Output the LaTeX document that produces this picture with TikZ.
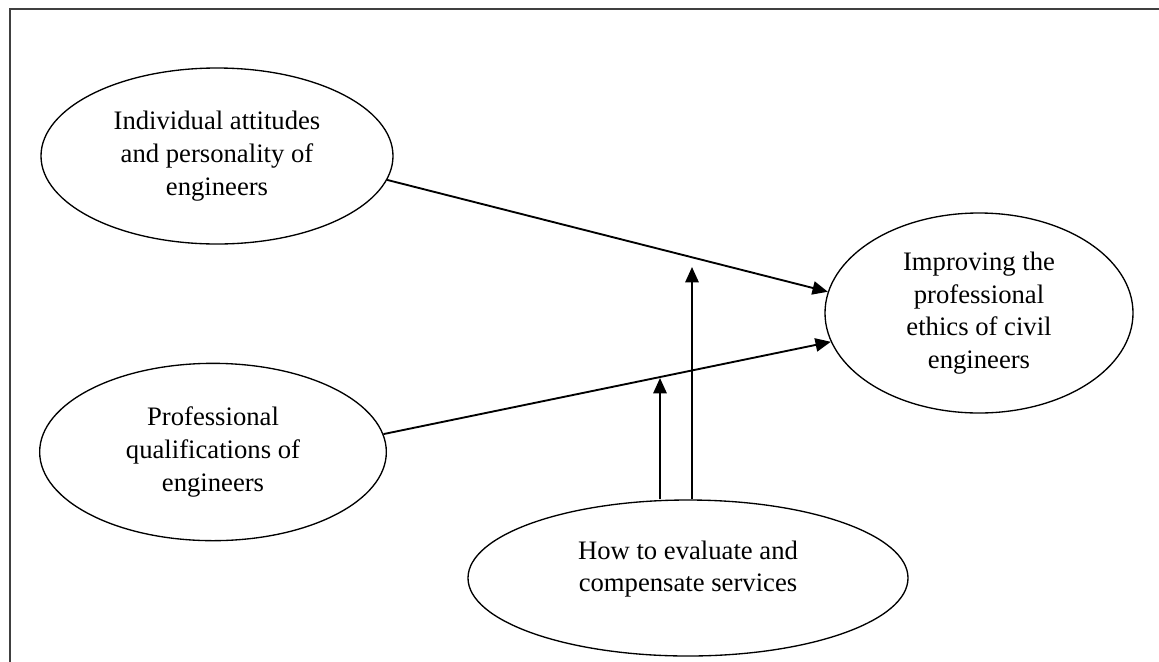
\documentclass[tikz,border=0pt]{standalone}
\usepackage{fontspec}
\setmainfont{Liberation Serif}
\usetikzlibrary{shapes.geometric,arrows.meta}
\begin{document}
\begin{tikzpicture}[x=0.75pt,y=-0.75pt,
                oval/.style={draw,ellipse,line width=1pt,inner sep=0pt,align=center,font=\fontsize{20}{24.5}\selectfont},
                link/.style={line width=1.4pt,-{Triangle[length=11.5pt,width=10pt]}}]
                \useasboundingbox (0,0) rectangle (1159,661);
                \begin{scope}
                \clip (0,0) rectangle (1159,661);
                \draw[line width=1.3pt,color=black!75] (10,670) -- (10,9) -- (1170,9);
                \end{scope}
                \node[oval,minimum width=264pt,minimum height=132pt] (ind) at (217,156) {Individual attitudes\\and personality of\\engineers};
                \node[oval,minimum width=260pt,minimum height=133pt] (qual) at (213,452) {Professional\\qualifications of\\engineers};
                \node[oval,minimum width=231pt,minimum height=150pt] (imp) at (979,313) {Improving the\\professional\\ethics of civil\\engineers};
                \node[oval,minimum width=330pt,minimum height=117pt] (eval) at (688,578) {};
                \node[align=center,font=\fontsize{20}{24.5}\selectfont] (evaltext) at (688,569) {How to evaluate and\\compensate services};
                \coordinate (m1) at (660,378);
                \coordinate (m2) at (692,267);
                \draw[link] (ind.-8) -- (imp.172);
                \draw[link] (qual.6) -- (imp.191);
                \draw[link] (m1 |- eval.north) -- (m1);
                \draw[link] (m2 |- eval.north) -- (m2);
            \end{tikzpicture}
\end{document}
